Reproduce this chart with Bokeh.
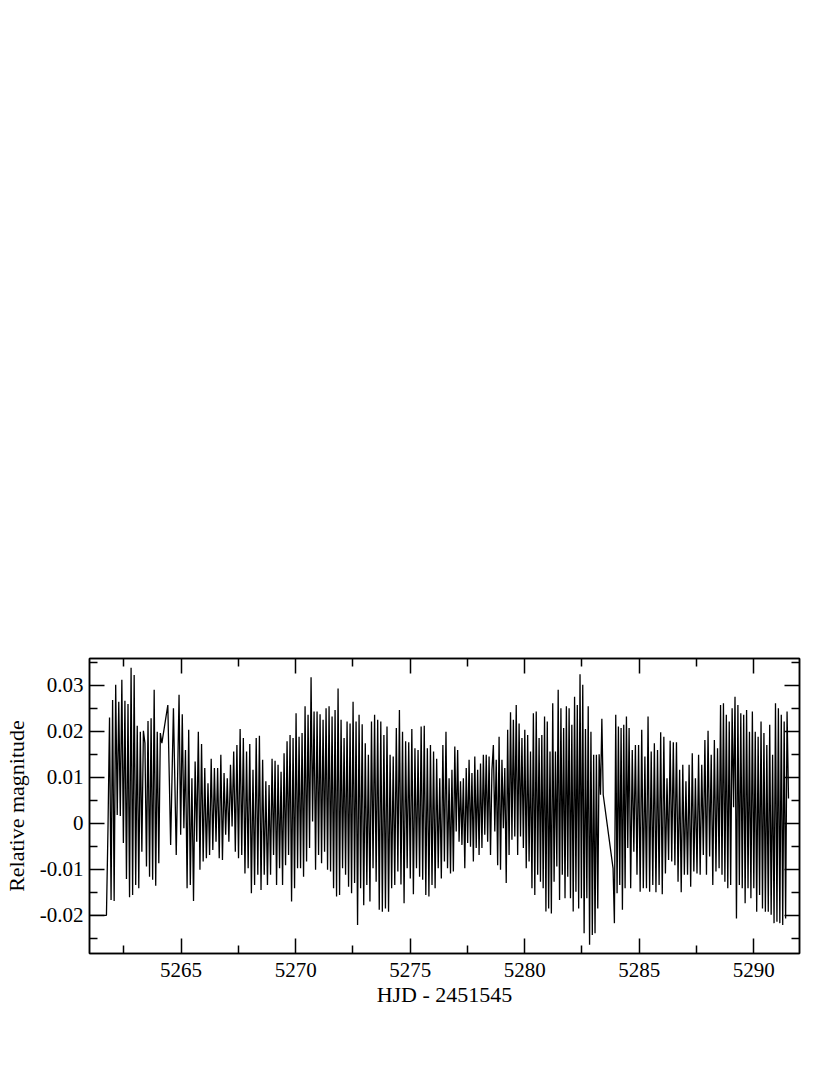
import numpy as np
from bokeh.plotting import figure
from bokeh.models import LinearAxis, FixedTicker, CustomJSTickFormatter, Range1d
from bokeh.embed import file_html
from bokeh.resources import INLINE

# ---- data (relative magnitude in mmag) ----
lead_t = [5261.0]
lead_mag = [-20.0]

# observing chunks: (start HJD, end HJD)
span_a = (5261.74, 5264.16)
mag_a = [-20.0, -1.1, 23.0, -16.7, 26.8, -16.9, 30.1, 1.8, 26.4, 1.6, 31.2, -4.3, 26.6, -12.1,
         25.9, -16.1, 33.8, -15.6, 32.2, -13.4, 21.2, -14.1, 19.9, -6.2, 20.1, 17.4, -9.4, 22.2,
         -11.6, 22.8, -12.3, 29.0, -13.6, 19.9, -8.7, 19.6, 17.4]

span_b1 = (5264.42, 5264.91)
mag_b1 = [25.7, -4.7, 25.0, -6.9]

span_b2 = (5264.91, 5268.84)
mag_b2 = [27.9, -2.5, 23.7, -1.1, 15.9, -14.1, 20.3, -13.4, 9.8, -16.9, 13.4, -4.0, 19.9, -10.1,
          17.2, -8.3, 12.0, -7.6, 8.7, -6.9, 14.0, -5.8, 12.0, -4.0, 12.0, -7.6, 14.9, -8.0, 10.9,
          -2.5, 9.8, -4.0, 12.7, -0.7, 15.6, -6.2, 17.0, -7.6, 20.5, -6.9, 18.5, -10.9, 15.6, -9.8,
          17.2, -15.2, 11.6, -13.4, 18.5, -11.2, 19.0, -14.5, 13.8, -11.2, 9.1, -13.4]

span_b3 = (5268.84, 5272.77)
mag_b3 = [8.3, -11.2, 14.0, -6.9, 13.6, -13.4, 12.7, -9.8, 11.2, -13.4, 15.2, -9.1, 17.8, -6.9,
          19.2, -17.0, 18.5, -14.1, 23.9, -9.8, 18.8, -9.8, 19.6, -11.6, 25.4, -8.3, 23.6, -5.4,
          31.7, 0.4, 24.3, -10.1, 24.3, -6.9, 23.7, -8.7, 22.5, -6.2, 25.0, -10.1, 25.4, -10.5,
          23.2, -14.1, 24.6, -15.9, 29.3, -15.6, 22.5, -9.8, 18.5, -11.2, 22.1, -13.8, 21.7,
          -15.2, 26.4, -13.0, 22.1, -22.1]

span_b4 = (5272.77, 5276.70)
mag_b4 = [23.6, -14.1, 21.5, -17.8, 17.4, -13.4, 14.9, -17.0, 22.1, -9.8, 23.6, -12.7, 22.5,
          -18.8, 22.1, -19.2, 19.2, -18.5, 21.0, -19.2, 14.9, -14.1, 14.5, -13.4, 20.7, -10.5,
          24.6, -13.3, 19.9, -17.4, 17.8, -9.8, 17.6, -12.0, 20.5, -15.4, 16.3, -9.8, 15.9, -11.6,
          21.0, -12.3, 21.2, -15.6, 16.3, -15.9, 17.0, -13.4, 15.6, -14.1, 14.0, -9.8, 9.8, -12.0,
          17.0, -8.3, 19.9, -9.8]

span_b5 = (5276.70, 5280.63)
mag_b5 = [9.8, -10.9, 11.6, -10.5, 16.7, -1.8, 15.9, -4.0, 9.1, -4.7, 9.8, -9.8, 12.0, -4.3,
          13.8, -5.1, 10.9, -8.3, 14.5, -5.4, 11.6, -6.9, 13.0, -5.4, 14.9, -2.5, 14.9, -4.0, 14.5,
          -6.9, 11.6, 17.0, -1.8, 13.8, -9.1, 18.8, -10.1, 13.8, -1.1, 12.0, -13.0, 20.3, -6.9,
          24.1, -3.6, 22.5, -2.9, 25.7, -6.9, 21.7, -2.9, 18.5, -5.4, 20.3, -9.8, 19.2, -8.3, 15.6,
          -14.1, 23.9, -15.6, 24.3, -11.2]

span_b6 = (5280.63, 5283.43)
mag_b6 = [18.5, -12.7, 19.2, -14.1, 23.2, -19.2, 22.1, -18.5, 15.6, -19.6, 26.1, -12.7, 15.6,
          -9.4, 29.0, -16.7, 25.0, -11.2, 20.7, -16.3, 25.4, -11.6, 25.0, -16.3, 21.4, -19.2, 27.5,
          -14.9, 25.7, -18.5, 32.4, -16.3, 30.1, -23.9, 20.5, -16.3, 25.4, -26.4, 19.9, -24.3,
          14.9, -23.9, 14.9, -18.5, 15.0, 6.2, 22.7, 6.2]

span_c1 = (5283.86, 5284.56)
mag_c1 = [-9.8, -21.7, 23.6, -15.2, 21.0, -13.4, 20.7, -18.8, 21.4, -14.1, 23.2, -5.4]

span_c2 = (5284.56, 5288.49)
mag_c2 = [20.7, -14.1, 15.9, -6.2, 17.0, -11.2, 17.0, -14.9, 20.3, -14.1, 14.5, -14.1, 23.2,
          -14.9, 15.6, -13.4, 17.4, -15.0, 15.9, -13.4, 19.8, -15.4, 18.8, -10.9, 9.8, -8.0, 17.9,
          -8.3, 17.6, -9.1, 17.6, -12.7, 11.6, -15.0, 12.7, -11.2, 9.1, -11.2, 12.7, -13.8, 15.2,
          -10.5, 9.8, -10.9, 14.9, -11.2, 12.7, -6.9, 18.1, -11.2, 20.1, -7.2, 14.9, -13.4, 18.1,
          -10.5, 16.3]

span_c3 = (5288.49, 5291.52)
mag_c3 = [-9.8, 25.7, -11.2, 26.1, -12.7, 23.6, -14.1, 22.1, -13.4, 25.0, 3.5, 27.5, -20.7, 25.7,
          -13.4, 23.9, -14.1, 23.6, -17.4, 24.6, -14.1, 19.9, -16.3, 24.3, -14.1, 19.9, -19.2,
          18.8, -15.6, 22.1, -18.5, 19.6, -19.2, 17.0, -19.2, 21.4, -19.9, 14.9, -21.7, 26.1,
          -21.4, 25.0, -21.7, 23.6, -22.1, 22.1, -20.7, 24.3, 5.4]

x_major = [5265, 5270, 5275, 5280, 5285, 5290]
x_minor = [5262.5, 5267.5, 5272.5, 5277.5, 5282.5, 5287.5]
y_major = [-0.02, -0.01, 0.0, 0.01, 0.02, 0.03]
y_minor = [-0.025, -0.015, -0.005, 0.005, 0.015, 0.025, 0.035]

# ---- assemble series (regular cadence inside each observing chunk) ----
chunks = [
    (span_a, mag_a, True),
    (span_b1, mag_b1, False), (span_b2, mag_b2, False), (span_b3, mag_b3, False),
    (span_b4, mag_b4, False), (span_b5, mag_b5, False), (span_b6, mag_b6, True),
    (span_c1, mag_c1, False), (span_c2, mag_c2, False), (span_c3, mag_c3, True),
]
t_all = list(lead_t)
m_all = list(lead_mag)
for (t0, t1), mags, endp in chunks:
    t_all.extend(np.linspace(t0, t1, len(mags), endpoint=endp).tolist())
    m_all.extend(mags)
t_all = np.array(t_all)
y_all = np.array(m_all) * 1e-3

FONT = "Liberation Serif"

p = figure(frame_width=710, frame_height=295,
           x_range=Range1d(5261, 5292), y_range=Range1d(-0.0283, 0.0358),
           output_backend="svg", toolbar_location=None, tools="",
           background_fill_color="white", border_fill_color="white")
p.min_border_left = 80
p.min_border_right = 16
p.min_border_top = 658
p.min_border_bottom = 90
p.grid.visible = False
p.outline_line_color = "black"
p.outline_line_width = 1.5

p.line(t_all, y_all, line_color="black", line_width=1.3)

def style_axis(ax, ticks, minor, show_labels):
    ax.ticker = FixedTicker(ticks=ticks, minor_ticks=minor)
    ax.major_tick_in = 15
    ax.major_tick_out = 0
    ax.minor_tick_in = 8
    ax.minor_tick_out = 0
    ax.major_tick_line_color = "black"
    ax.minor_tick_line_color = "black"
    ax.major_tick_line_width = 1.5
    ax.minor_tick_line_width = 1.5
    ax.axis_line_color = "black"
    ax.axis_line_width = 1.5
    ax.major_label_text_font = FONT
    ax.major_label_text_font_size = "21px"
    ax.major_label_text_color = "black"
    ax.axis_label_text_font = FONT
    ax.axis_label_text_font_size = "22px"
    ax.axis_label_text_font_style = "normal"
    ax.axis_label_text_color = "black"
    if not show_labels:
        ax.major_label_text_font_size = "0px"
        ax.formatter = CustomJSTickFormatter(code="return '';")

xb = p.xaxis[0]
style_axis(xb, x_major, x_minor, True)
xb.formatter = CustomJSTickFormatter(code="return tick.toFixed(0);")
xb.axis_label = "HJD - 2451545"
xb.major_label_standoff = 9
xb.axis_label_standoff = 2

yl = p.yaxis[0]
style_axis(yl, y_major, y_minor, True)
yl.formatter = CustomJSTickFormatter(code="return Math.abs(tick) < 1e-12 ? '0' : tick.toFixed(2);")
yl.axis_label = "Relative magnitude"
yl.major_label_standoff = 6
yl.axis_label_standoff = 8

xt = LinearAxis()
style_axis(xt, x_major, x_minor, False)
p.add_layout(xt, "above")

yr = LinearAxis()
style_axis(yr, y_major, y_minor, False)
p.add_layout(yr, "right")

open("out.html", "w").write(file_html(p, INLINE))
